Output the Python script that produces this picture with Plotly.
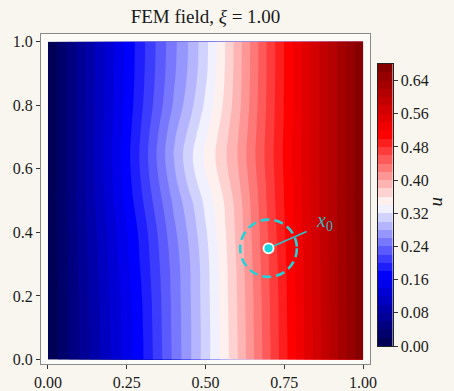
import plotly.graph_objects as go

# ---- data ----
x_grid = [0.0, 0.1, 0.2, 0.3, 0.4, 0.45, 0.5, 0.55, 0.6, 0.7, 0.8, 0.9, 1.0]
y_grid = [0.0, 0.1, 0.2, 0.3, 0.4, 0.5, 0.55, 0.6, 0.65, 0.7, 0.75, 0.8, 0.9, 1.0]
u_grid = [
    [0.001, 0.060, 0.120, 0.178, 0.245, 0.277, 0.310, 0.343, 0.378, 0.455, 0.530, 0.605, 0.678],
    [0.001, 0.0605, 0.121, 0.179, 0.246, 0.277, 0.310, 0.344, 0.379, 0.456, 0.530, 0.605, 0.678],
    [0.001, 0.061, 0.123, 0.181, 0.247, 0.278, 0.311, 0.345, 0.380, 0.457, 0.531, 0.606, 0.678],
    [0.001, 0.063, 0.126, 0.185, 0.249, 0.279, 0.312, 0.346, 0.382, 0.459, 0.532, 0.606, 0.678],
    [0.001, 0.0645, 0.129, 0.189, 0.255, 0.285, 0.317, 0.350, 0.3845, 0.4615, 0.534, 0.607, 0.678],
    [0.001, 0.067, 0.134, 0.199, 0.265, 0.295, 0.326, 0.355, 0.388, 0.465, 0.536, 0.608, 0.678],
    [0.001, 0.067, 0.136, 0.203, 0.272, 0.305, 0.334, 0.362, 0.393, 0.466, 0.536, 0.608, 0.678],
    [0.001, 0.067, 0.137, 0.206, 0.278, 0.312, 0.341, 0.368, 0.397, 0.468, 0.537, 0.608, 0.678],
    [0.001, 0.067, 0.138, 0.207, 0.281, 0.314, 0.343, 0.370, 0.399, 0.469, 0.537, 0.608, 0.678],
    [0.001, 0.067, 0.137, 0.205, 0.277, 0.308, 0.338, 0.367, 0.397, 0.468, 0.537, 0.608, 0.678],
    [0.001, 0.067, 0.136, 0.202, 0.270, 0.300, 0.331, 0.362, 0.394, 0.467, 0.536, 0.608, 0.678],
    [0.001, 0.067, 0.135, 0.199, 0.263, 0.293, 0.324, 0.357, 0.391, 0.466, 0.536, 0.608, 0.678],
    [0.001, 0.067, 0.134, 0.196, 0.257, 0.285, 0.316, 0.352, 0.389, 0.465, 0.536, 0.608, 0.678],
    [0.001, 0.067, 0.134, 0.195, 0.255, 0.283, 0.314, 0.351, 0.388, 0.465, 0.536, 0.608, 0.678],
]
level_start, level_end, level_step = 0.0, 0.68, 0.02
cbar_ticks = [0.00, 0.08, 0.16, 0.24, 0.32, 0.40, 0.48, 0.56, 0.64]
x_ticks = [0.0, 0.25, 0.5, 0.75, 1.0]
y_ticks = [0.0, 0.2, 0.4, 0.6, 0.8, 1.0]
x0_point = [0.70, 0.35]
x0_radius = 0.09
label_point = [0.821, 0.403]
title_text = "FEM field, <i>ξ</i> = 1.00"

# ---- seismic colormap, discretised into contour bands ----
anchors = [(0.0, (0, 0, 0.3)), (0.25, (0, 0, 1)), (0.5, (1, 1, 1)),
           (0.75, (1, 0, 0)), (1.0, (0.5, 0, 0))]


def seismic(t):
    t = min(max(t, 0.0), 1.0)
    for (a, ca), (b, cb) in zip(anchors[:-1], anchors[1:]):
        if t <= b:
            f = (t - a) / (b - a)
            c = [ca[i] + f * (cb[i] - ca[i]) for i in range(3)]
            return "rgb(%d,%d,%d)" % tuple(round(255 * v) for v in c)
    return "rgb(128,0,0)"


n_bands = round((level_end - level_start) / level_step)  # 34
n_levels = n_bands + 1                                     # 35
cscale = []
for j in range(n_levels + 1):
    if j == 0:
        col = seismic(0)
    elif j == n_levels:
        col = seismic(1)
    else:
        col = seismic((j - 0.5) / n_bands)
    lo = max(0.0, (j - 0.5) / n_levels)
    hi = min(1.0, (j + 0.5) / n_levels)
    cscale.append([lo, col])
    cscale.append([hi, col])

FONT = "Liberation Serif"
TXT = "#1a1a1a"
CYAN = "#22d3d8"
BG = "#f9f6ef"

fig = go.Figure()
fig.add_trace(go.Contour(
    x=x_grid, y=y_grid, z=u_grid,
    autocontour=False,
    contours=dict(start=level_start, end=level_end, size=level_step,
                  coloring="fill", showlines=False),
    line=dict(width=0, smoothing=1.3),
    colorscale=cscale, showscale=False, hoverinfo="skip",
    xaxis="x", yaxis="y"))

# manual colorbar
band_mid = [level_start + (k + 0.5) * level_step for k in range(n_bands)]
fig.add_trace(go.Heatmap(
    x=[0], y=band_mid, z=[[k + 1] for k in range(n_bands)],
    zmin=0, zmax=n_levels, colorscale=cscale, showscale=False,
    hoverinfo="skip", xaxis="x2", yaxis="y2"))

# x0 marker, pointer line
fig.add_trace(go.Scatter(
    x=[x0_point[0], label_point[0]], y=[x0_point[1], label_point[1]],
    mode="lines", line=dict(color="#2cc3c9", width=1.6),
    showlegend=False, hoverinfo="skip", xaxis="x", yaxis="y"))
fig.add_trace(go.Scatter(
    x=[x0_point[0]], y=[x0_point[1]], mode="markers",
    marker=dict(size=10, color="#18d6dc", line=dict(color="white", width=1.8)),
    showlegend=False, hoverinfo="skip", xaxis="x", yaxis="y"))

fig.add_shape(type="circle", xref="x", yref="y",
              x0=x0_point[0] - x0_radius, x1=x0_point[0] + x0_radius,
              y0=x0_point[1] - x0_radius, y1=x0_point[1] + x0_radius,
              line=dict(color=CYAN, width=2.6, dash="9px,5px"))

W, H = 454, 391
fr_l, fr_r, fr_t, fr_b = 41, 370, 34, 364
cb_l, cb_r, cb_t, cb_b = 378, 392.5, 64, 346

axis_common = dict(showgrid=False, zeroline=False, ticks="outside", ticklen=4,
                   tickwidth=1, tickcolor="#333", showline=True, mirror=True,
                   automargin=False,
                   tickfont=dict(family=FONT, size=16, color=TXT))

fig.update_layout(
    width=W, height=H,
    margin=dict(l=0, r=0, t=0, b=0, autoexpand=False),
    paper_bgcolor=BG, plot_bgcolor="#fcfbf7",
    showlegend=False,
    font=dict(family=FONT, color=TXT),
    title=dict(text=title_text, x=(fr_l + fr_r) / 2 / W, xanchor="center",
               y=1 - 16 / H, yanchor="middle",
               font=dict(family=FONT, size=19, color=TXT)),
    xaxis=dict(domain=[fr_l / W, fr_r / W], range=[-0.022, 1.022],
               tickvals=x_ticks, ticktext=["%.2f" % v for v in x_ticks],
               linecolor="#8a8a8a", anchor="y", **axis_common),
    yaxis=dict(domain=[1 - fr_b / H, 1 - fr_t / H], range=[-0.014, 1.024],
               tickvals=y_ticks, ticktext=["%.1f" % v for v in y_ticks],
               linecolor="#8a8a8a", anchor="x", **axis_common),
    xaxis2=dict(domain=[cb_l / W, cb_r / W], range=[-0.5, 0.5],
                showticklabels=False, ticks="", showgrid=False, zeroline=False,
                automargin=False,
                showline=True, mirror=True, linecolor="#222", anchor="y2"),
    yaxis2=dict(domain=[1 - cb_b / H, 1 - cb_t / H],
                range=[level_start, level_end], side="right",
                tickvals=cbar_ticks, ticktext=["%.2f" % v for v in cbar_ticks],
                linecolor="#222", anchor="x2", **axis_common),
    annotations=[
        dict(text="<i>x</i><sub>0</sub>", x=label_point[0] + 0.022,
             y=label_point[1] + 0.03, xref="x", yref="y",
             xanchor="left", yanchor="middle", showarrow=False,
             font=dict(family=FONT, size=20, color="#33b7bd")),
        dict(text="<i>u</i>", x=447 / W, y=1 - 202 / H, xref="paper",
             yref="paper", textangle=-90, showarrow=False,
             font=dict(family=FONT, size=19, color=TXT)),
    ],
)

fig.write_html(
    "out.html",
    config={"displayModeBar": False},
    post_script="document.body.style.margin='0';"
                "document.body.style.background='%s';" % BG)
